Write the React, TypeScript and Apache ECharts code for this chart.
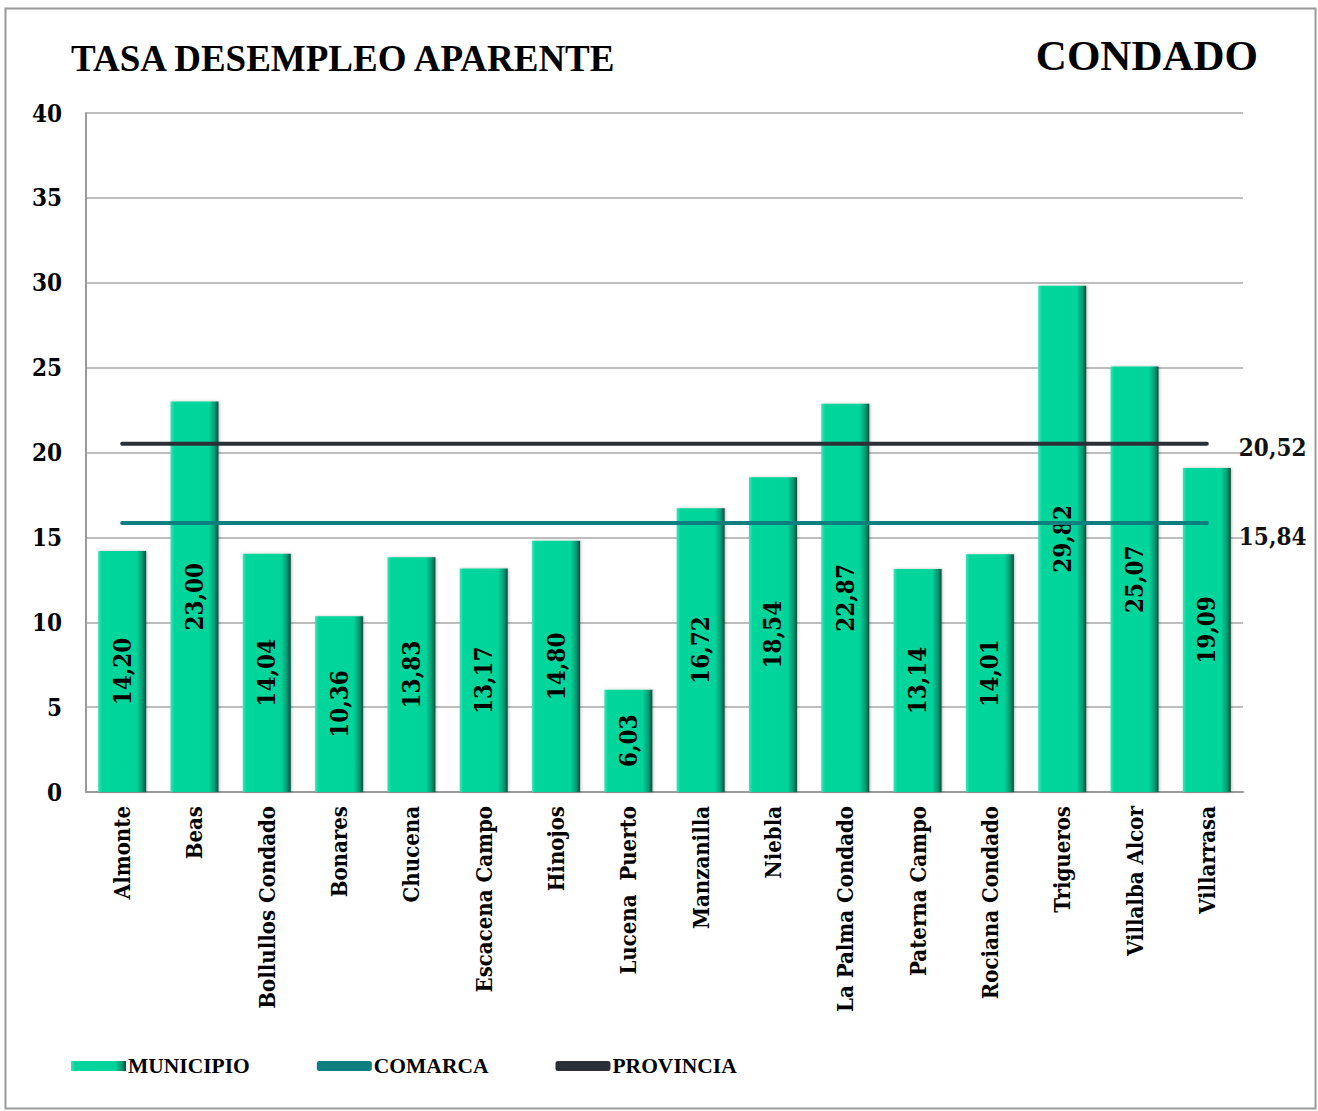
import React, { useEffect, useRef } from "react";
import * as echarts from "echarts";

const categories = [
  "Almonte", "Beas", "Bollullos Condado", "Bonares", "Chucena", "Escacena Campo",
  "Hinojos", "Lucena  Puerto", "Manzanilla", "Niebla", "La Palma Condado",
  "Paterna Campo", "Rociana Condado", "Trigueros", "Villalba Alcor", "Villarrasa",
];
const municipio = [14.2, 23.0, 14.04, 10.36, 13.83, 13.17, 14.8, 6.03, 16.72, 18.54, 22.87, 13.14, 14.01, 29.82, 25.07, 19.09];
const comarca = 15.84;
const provincia = 20.52;
const yTicks = { min: 0, max: 40, interval: 5 };

const FONT = "'Liberation Serif', 'DejaVu Serif', serif";
const NUMFONT = "'DejaVu Serif Condensed', 'DejaVu Serif', serif";
const fmt = (v: number) => v.toFixed(2).replace(".", ",");

export default function App() {
  const ref = useRef<HTMLDivElement>(null);
  useEffect(() => {
    if (!ref.current) return;
    const chart = echarts.init(ref.current, null, { renderer: "svg" });
    const barGrad = new echarts.graphic.LinearGradient(0, 0, 1, 0, [
      { offset: 0, color: "#3fe3b4" },
      { offset: 0.08, color: "#00d69c" },
      { offset: 0.8, color: "#00d49a" },
      { offset: 0.92, color: "#049a72" },
      { offset: 1, color: "#0b4a3c" },
    ]);
    const endLabel = (dy: number) => ({
      show: true,
      distance: 32,
      offset: [0, dy],
      fontFamily: NUMFONT,
      fontWeight: "bold" as const,
      fontSize: 24,
      color: "#111",
      formatter: (p: any) => fmt(p.value),
    });
    chart.setOption({
      animation: false,
      backgroundColor: "#ffffff",
      textStyle: { fontFamily: FONT },
      title: [
        {
          text: "TASA DESEMPLEO APARENTE",
          left: 66,
          top: 35,
          textStyle: { fontFamily: FONT, fontWeight: "bold", fontSize: 37, color: "#000" },
        },
        {
          text: "CONDADO",
          right: 55,
          top: 29,
          textStyle: { fontFamily: FONT, fontWeight: "bold", fontSize: 43, color: "#000" },
        },
      ],
      graphic: [
        {
          type: "rect",
          shape: { x: 5.5, y: 8.5, width: 1310, height: 1100 },
          style: { fill: "none", stroke: "#9a9a9a", lineWidth: 2 },
          silent: true,
        },
      ],
      legend: {
        left: 66,
        top: 1050,
        itemGap: 67,
        itemWidth: 55,
        itemHeight: 10,
        textStyle: { fontFamily: FONT, fontWeight: "bold", fontSize: 21.5, color: "#000", padding: [0, 0, 0, -3] },
        data: [
          { name: "MUNICIPIO", icon: "rect" },
          { name: "COMARCA", icon: "roundRect", itemStyle: { color: "#0e7f7f" } },
          { name: "PROVINCIA", icon: "roundRect", itemStyle: { color: "#2b3038" } },
        ],
      },
      grid: { left: 86, right: 75, top: 113, bottom: 319, containLabel: false },
      xAxis: {
        type: "category",
        data: categories,
        boundaryGap: true,
        axisLine: { show: true, lineStyle: { color: "#9a9a9a", width: 2 } },
        axisTick: { show: false },
        axisLabel: {
          rotate: 90,
          interval: 0,
          margin: 14,
          fontFamily: NUMFONT,
          fontWeight: "bold",
          fontSize: 22,
          color: "#000",
        },
      },
      yAxis: {
        type: "value",
        min: yTicks.min,
        max: yTicks.max,
        interval: yTicks.interval,
        axisLine: { show: true, lineStyle: { color: "#9a9a9a", width: 2 } },
        axisTick: { show: false },
        splitLine: { show: true, lineStyle: { color: "#a8a8a8", width: 1.5 } },
        axisLabel: {
          margin: 24,
          fontFamily: NUMFONT,
          fontWeight: "bold",
          fontSize: 24,
          color: "#000",
        },
      },
      series: [
        {
          name: "MUNICIPIO",
          type: "bar",
          data: municipio,
          barWidth: 48,
          itemStyle: { color: barGrad, shadowColor: "rgba(0,0,0,0.25)", shadowBlur: 3, shadowOffsetX: 1 },
          label: {
            show: true,
            position: "inside",
            rotate: 90,
            fontFamily: NUMFONT,
            fontWeight: "bold",
            fontSize: 24,
            color: "#000",
            formatter: (p: any) => fmt(p.value),
          },
          z: 2,
        },
        {
          name: "COMARCA",
          type: "line",
          data: categories.map(() => comarca),
          symbol: "none",
          lineStyle: { color: "#0e7f7f", width: 4, cap: "round" },
          itemStyle: { color: "#0e7f7f" },
          endLabel: endLabel(13),
          z: 3,
        },
        {
          name: "PROVINCIA",
          type: "line",
          data: categories.map(() => provincia),
          symbol: "none",
          lineStyle: { color: "#2b3038", width: 4, cap: "round" },
          itemStyle: { color: "#2b3038" },
          endLabel: endLabel(4),
          z: 3,
        },
      ],
    });
    return () => chart.dispose();
  }, []);
  return (
    <div
      ref={ref}
      style={{ position: "absolute", left: 0, top: 0, width: 1318, height: 1111 }}
    />
  );
}
